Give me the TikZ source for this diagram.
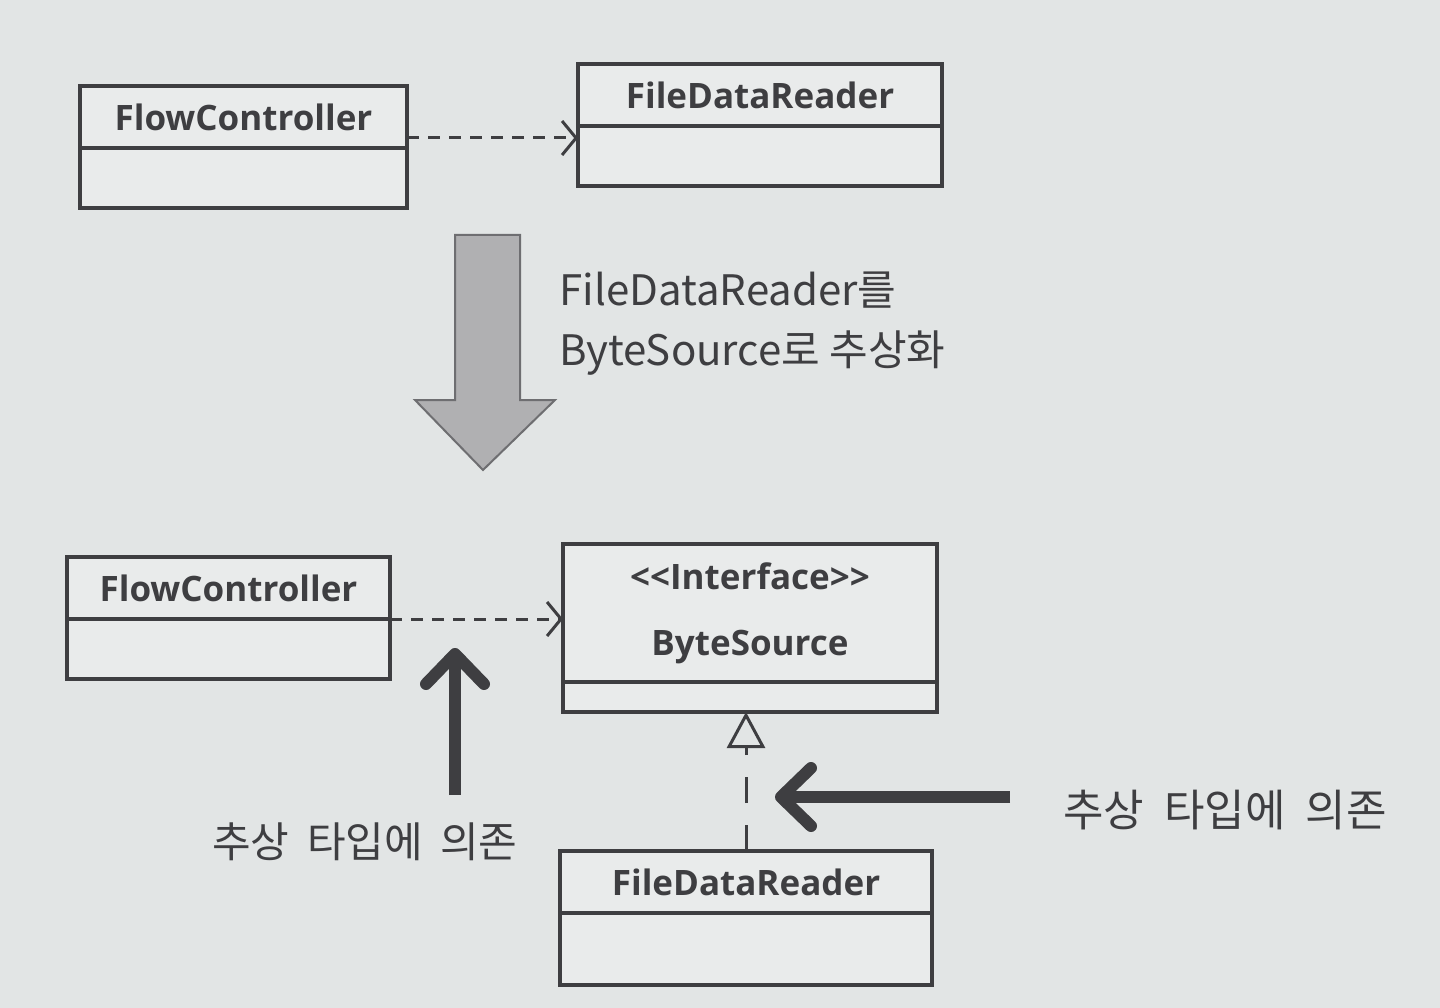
\documentclass[tikz,border=0pt]{standalone}
\usepackage{fontspec}
\setmainfont{Open Sans}
\newfontfamily\krfont{Noto Sans CJK KR}
\usepackage{xcolor}
\usetikzlibrary{positioning, arrows.meta}
\definecolor{paper}{RGB}{226,229,229}
\definecolor{boxfill}{RGB}{233,235,235}
\definecolor{ink}{RGB}{62,62,65}
\definecolor{bigfill}{RGB}{176,176,178}
\tikzset{
    classhead/.style={draw=ink, line width=3.5pt, fill=boxfill, outer sep=0pt, minimum height=62pt, text=ink, font=\fontsize{35}{66}\selectfont\bfseries}, % class name part
    classbody/.style={draw=ink, line width=3.5pt, fill=boxfill, outer sep=0pt, minimum height=60pt}, % empty part below it
    depend/.style={draw=ink, line width=3pt, dash pattern=on 12pt off 9pt, -{Straight Barb[length=14pt, width=34pt, line width=3pt]}}, % uses
    realize/.style={draw=ink, line width=3pt, dash pattern=on 26pt off 22pt, -{Triangle[open, length=36pt, width=38pt, line width=3pt]}}, % implements
    push/.style={draw=ink, line width=12pt, -{Straight Barb[round, length=30pt, width=58pt]}}, % thick pointer
    note/.style={text=ink, font=\krfont\fontsize{42}{60}\selectfont},
}

\begin{document}
\begin{tikzpicture}[x=1pt, y=-1pt]
    \fill[paper] (0,0) rectangle (1440,1008);
    \useasboundingbox (0,0) rectangle (1440,1008);

    % before
    \node[classhead, minimum width=327pt] (fc1) at (243.5,117) {FlowController};
    \node[classbody, minimum width=327pt] (fc1b) [below=0pt of fc1] {};
    \node[classhead, minimum width=364pt] (fdr1) at (760,95) {FileDataReader};
    \node[classbody, minimum width=364pt] (fdr1b) [below=0pt of fdr1] {};
    \draw[depend] ([yshift=10pt]fc1.south east) -- ([yshift=10pt]fc1.south east -| fdr1.west);

    % abstraction step
    \draw[line width=2pt, draw=ink!75, fill=bigfill]
        (455,235) -- (520,235) -- (520,400) -- (555,400) -- (483,470) -- (415,400) -- (455,400) -- cycle;
    \node[note, align=left, anchor=west] (abst) at (556,324) {FileDataReader를\\ByteSource로 추상화};

    % after
    \node[classhead, minimum width=323pt] (fc2) at (228.5,588) {FlowController};
    \node[classbody, minimum width=323pt] (fc2b) [below=0pt of fc2] {};
    \node[classhead, minimum width=374pt, minimum height=138pt, align=center] (bs) at (750,613) {{<}{<}Interface{>}{>}\\ByteSource};
    \node[classbody, minimum width=374pt, minimum height=30pt] (bsb) [below=0pt of bs] {};
    \node[classhead, minimum width=372pt] (fdr2) at (746,882) {FileDataReader};
    \node[classbody, minimum width=372pt, minimum height=72pt] (fdr2b) [below=0pt of fdr2] {};
    \draw[depend] (fc2.south east) -- (fc2.south east -| bs.west);
    \draw[realize] (fdr2.north) -- (fdr2.north |- bsb.south);

    \node[note] (dep1) at (365,842) {추상\hspace{8pt} 타입에\hspace{8pt} 의존};
    \node[note, font=\krfont\fontsize{44}{60}\selectfont] (dep2) at (1225,810) {추상\hspace{10pt} 타입에\hspace{10pt} 의존};
    \coordinate (up1) at (455,795);
    \coordinate (up1tip) at (455,648);
    \coordinate (left1) at (1010,797);
    \coordinate (left1tip) at (775,797);
    \draw[push] (up1) -- (up1tip);
    \draw[push] (left1) -- (left1tip);
\end{tikzpicture}
\end{document}
